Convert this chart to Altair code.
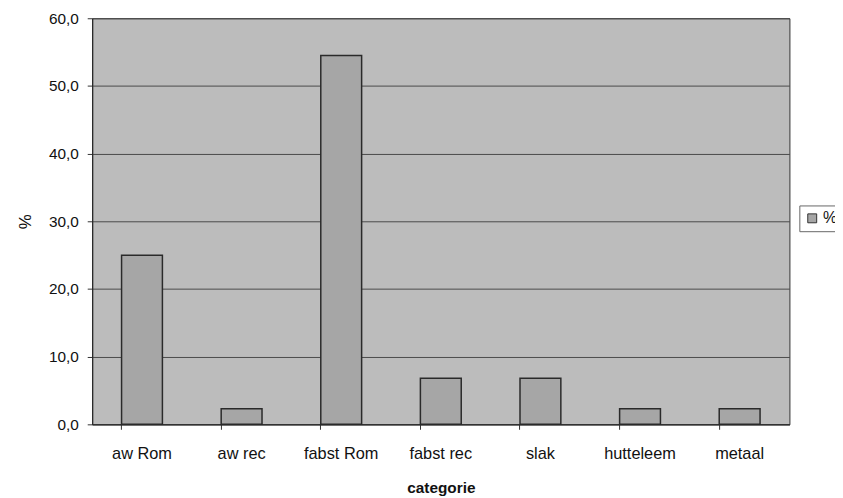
import altair as alt
import pandas as pd

categories = ["aw Rom", "aw rec", "fabst Rom", "fabst rec", "slak", "hutteleem", "metaal"]
values = [25.0, 2.3, 54.5, 6.8, 6.8, 2.3, 2.3]
series = ["%"] * len(categories)

df = pd.DataFrame({"categorie": categories, "pct": values, "series": series})

font = "Liberation Sans"

chart = alt.Chart(df).mark_bar(
    stroke="#2a2a2a", strokeWidth=1.5
).encode(
    x=alt.X("categorie:N", sort=categories,
            scale=alt.Scale(paddingInner=0.59, paddingOuter=0.295),
            axis=alt.Axis(title="categorie", labelAngle=0, labelFontSize=16.5,
                          labelFont=font, labelColor="#111", labelPadding=16,
                          tickSize=5, tickColor="#333", bandPosition=0,
                          domainColor="#222", titleFont=font, titleFontSize=15.5,
                          titleFontWeight="bold", titleColor="#111", titlePadding=19)),
    y=alt.Y("pct:Q", scale=alt.Scale(domain=[0, 60], nice=False),
            axis=alt.Axis(title="%", values=[0, 10, 20, 30, 40, 50, 60],
                          labelExpr="replace(format(datum.value, '.1f'), '.', ',')",
                          labelFontSize=15.5, labelFont=font, labelColor="#111",
                          labelPadding=9, tickSize=5, tickColor="#333",
                          domainColor="#222", gridColor="#4a4a4a", gridWidth=1,
                          titleFont=font, titleFontSize=17, titleColor="#111",
                          titleFontWeight="normal", titlePadding=14)),
    color=alt.Color("series:N",
                    scale=alt.Scale(range=["#a6a6a6"]),
                    legend=alt.Legend(title=None, orient="none", legendX=714, legendY=189,
                                      symbolType="square", symbolSize=81,
                                      symbolStrokeColor="#333", symbolStrokeWidth=1,
                                      labelFont=font, labelFontSize=16, labelColor="#111",
                                      labelOffset=3,
                                      strokeColor="#666", padding=5,
                                      fillColor="white")),
).properties(
    width=704, height=410,
    autosize=alt.AutoSizeParams(type="none"),
    padding={"left": 85, "top": 8, "right": 46, "bottom": 70},
).configure(
    background="white"
).configure_view(
    fill="#bcbcbc", stroke="#333", strokeWidth=1
)

chart.save("out.html", embed_options={"renderer": "svg", "actions": False})
